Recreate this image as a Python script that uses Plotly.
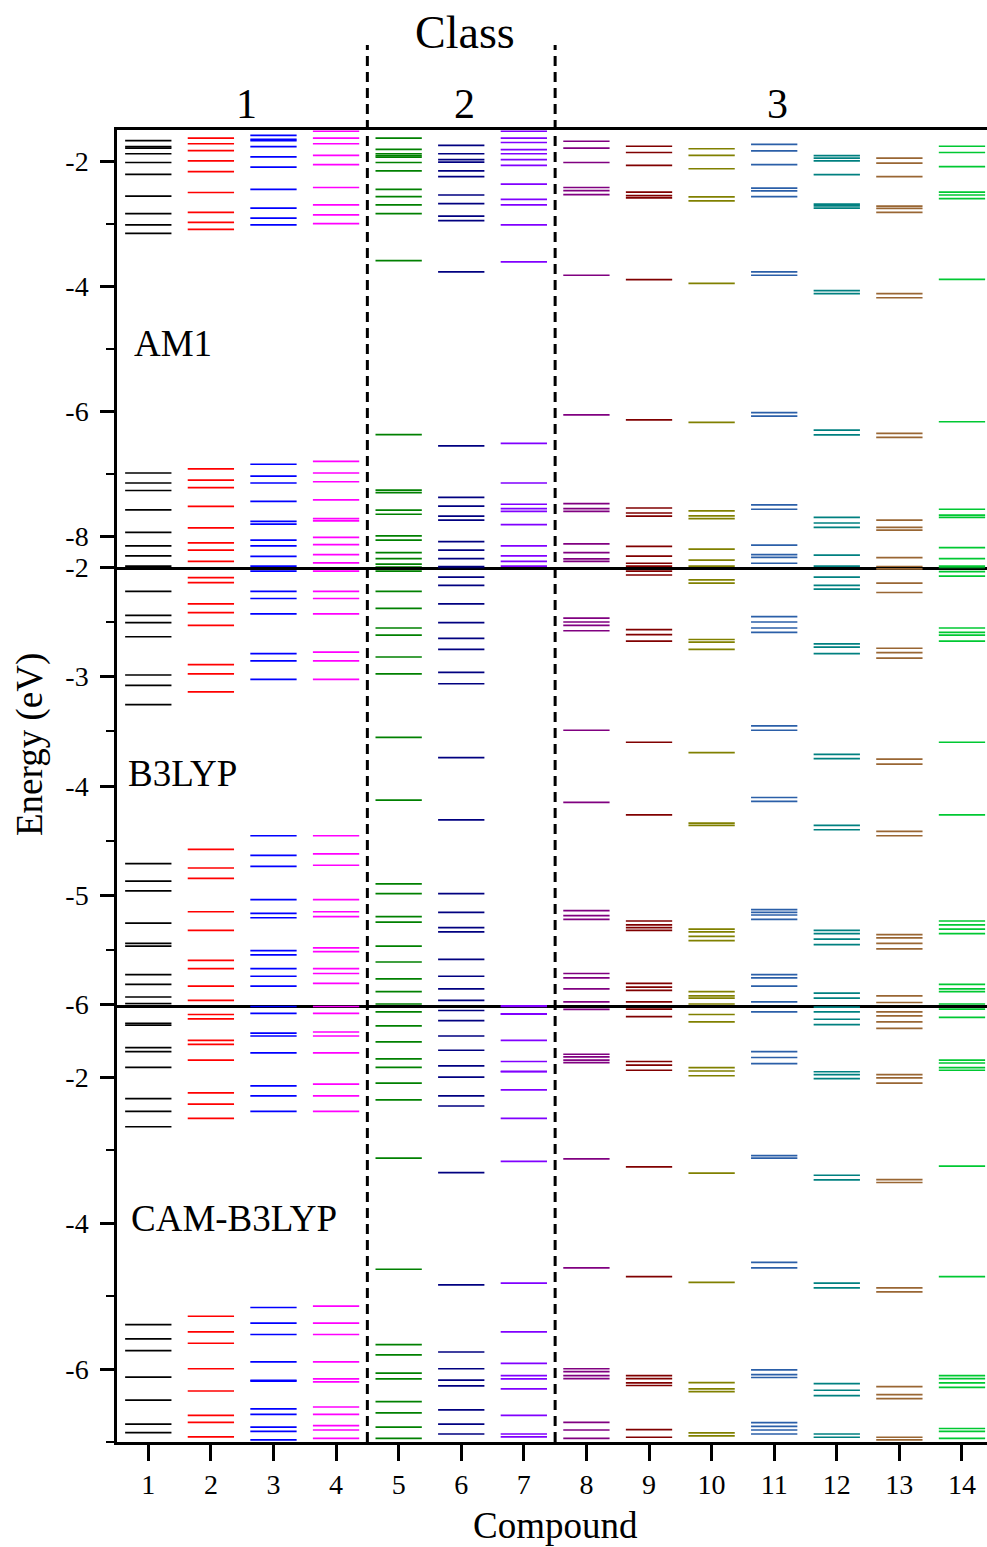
import plotly.graph_objects as go
from plotly.subplots import make_subplots

compounds = list(range(1, 15))
colors = ["#000000", "#ff0000", "#0000ff", "#ff00ff", "#008000", "#000080", "#8000ff",
          "#800080", "#800000", "#808000", "#2b5fa8", "#008080", "#996633", "#00c832"]
panel_names = ["AM1", "B3LYP", "CAM-B3LYP"]
class_labels = ["1", "2", "3"]

am1_levels = [
    [-1.67, -1.765, -1.79, -1.88, -2.02, -2.21, -2.56, -2.84, -3.02, -3.155, -6.99, -7.15, -7.27, -7.58, -7.94, -8.155, -8.315, -8.48],
    [-1.63, -1.72, -1.83, -1.995, -2.165, -2.50, -2.82, -2.98, -3.09, -6.925, -7.105, -7.225, -7.525, -7.87, -8.11, -8.225, -8.405],
    [-1.585, -1.65, -1.67, -1.765, -1.93, -2.095, -2.45, -2.75, -2.91, -3.02, -6.85, -7.04, -7.15, -7.445, -7.765, -7.81, -8.065, -8.155, -8.325, -8.48],
    [-1.52, -1.63, -1.72, -1.905, -2.055, -2.42, -2.70, -2.86, -3.00, -6.805, -6.99, -7.13, -7.42, -7.72, -7.755, -8.02, -8.135, -8.295, -8.43],
    [-1.63, -1.81, -1.88, -1.91, -1.935, -2.02, -2.155, -2.45, -2.565, -2.70, -2.84, -3.59, -6.375, -7.265, -7.305, -7.585, -7.65, -7.995, -8.065, -8.265, -8.36, -8.45, -8.495],
    [-1.745, -1.88, -1.975, -2.015, -2.155, -2.245, -2.54, -2.68, -2.88, -2.95, -3.77, -6.555, -7.38, -7.52, -7.68, -7.745, -8.09, -8.225, -8.36, -8.49],
    [-1.52, -1.63, -1.70, -1.815, -1.88, -1.975, -2.065, -2.365, -2.61, -2.70, -3.02, -3.61, -6.515, -7.15, -7.49, -7.56, -7.605, -7.815, -8.155, -8.315, -8.405, -8.48],
    [-1.68, -1.79, -2.02, -2.42, -2.47, -2.535, -3.825, -6.06, -7.48, -7.56, -7.605, -8.125, -8.265, -8.365, -8.405],
    [-1.76, -1.86, -2.065, -2.495, -2.55, -2.585, -3.895, -6.14, -7.55, -7.63, -7.68, -8.165, -8.32, -8.435, -8.48],
    [-1.80, -1.905, -2.12, -2.57, -2.635, -3.955, -6.18, -7.595, -7.675, -7.72, -8.21, -8.385, -8.48],
    [-1.73, -1.835, -2.055, -2.43, -2.475, -2.565, -3.77, -3.825, -6.025, -6.08, -7.50, -7.57, -8.145, -8.295, -8.34, -8.435],
    [-1.91, -1.95, -1.995, -2.215, -2.685, -2.715, -2.75, -4.07, -4.12, -6.305, -6.38, -7.70, -7.79, -7.86, -8.305, -8.48],
    [-1.95, -2.03, -2.245, -2.72, -2.755, -2.82, -4.12, -4.185, -6.355, -6.42, -7.745, -7.86, -7.905, -8.345, -8.49],
    [-1.76, -1.86, -2.085, -2.495, -2.54, -2.60, -3.89, -6.17, -7.57, -7.665, -7.70, -8.185, -8.36, -8.48],
]

b3lyp_levels = [
    [-2.22, -2.44, -2.505, -2.635, -2.985, -3.08, -3.255, -4.71, -4.87, -4.96, -5.255, -5.44, -5.465, -5.725, -5.815, -5.93, -5.99],
    [-2.095, -2.14, -2.335, -2.415, -2.53, -2.89, -2.975, -3.14, -4.58, -4.75, -4.845, -5.15, -5.32, -5.595, -5.67, -5.83, -5.96],
    [-2.035, -2.22, -2.285, -2.425, -2.79, -2.855, -3.025, -4.455, -4.635, -4.735, -5.04, -5.165, -5.205, -5.505, -5.545, -5.67, -5.74, -5.83],
    [-2.035, -2.22, -2.285, -2.425, -2.775, -2.855, -3.025, -4.455, -4.62, -4.725, -5.04, -5.15, -5.195, -5.48, -5.515, -5.67, -5.715, -5.805],
    [-2.035, -2.22, -2.375, -2.555, -2.62, -2.82, -2.975, -3.555, -4.13, -4.895, -4.985, -5.195, -5.245, -5.465, -5.61, -5.765, -5.88, -5.995],
    [-2.00, -2.09, -2.165, -2.335, -2.505, -2.65, -2.75, -2.96, -3.065, -3.74, -4.31, -4.985, -5.155, -5.295, -5.335, -5.585, -5.74, -5.855, -5.96],
    [],
    [-2.465, -2.50, -2.53, -2.58, -3.49, -4.15, -5.14, -5.185, -5.22, -5.715, -5.755, -5.855, -5.975],
    [-2.035, -2.07, -2.57, -2.615, -2.675, -3.60, -4.265, -5.235, -5.27, -5.295, -5.32, -5.805, -5.84, -5.87, -5.975],
    [-2.115, -2.145, -2.66, -2.685, -2.75, -3.695, -4.34, -4.36, -5.31, -5.335, -5.375, -5.415, -5.88, -5.92, -5.94, -5.995],
    [-2.45, -2.50, -2.555, -2.595, -3.45, -3.49, -4.105, -4.14, -5.13, -5.155, -5.18, -5.22, -5.725, -5.755, -5.83, -5.975],
    [-2.09, -2.165, -2.20, -2.70, -2.73, -2.79, -3.71, -3.75, -4.36, -4.40, -5.32, -5.35, -5.40, -5.45, -5.895, -5.94],
    [-2.015, -2.145, -2.23, -2.74, -2.78, -2.83, -3.755, -3.80, -4.415, -4.455, -5.36, -5.39, -5.44, -5.49, -5.92, -5.98],
    [-2.00, -2.04, -2.08, -2.555, -2.595, -2.62, -2.675, -3.60, -4.265, -5.235, -5.27, -5.31, -5.35, -5.815, -5.855, -5.88, -5.995],
]

cam_levels = [
    [-1.255, -1.28, -1.59, -1.645, -1.86, -2.29, -2.465, -2.675, -5.39, -5.585, -5.745, -6.11, -6.425, -6.755, -6.87],
    [-1.135, -1.195, -1.49, -1.545, -1.76, -2.21, -2.365, -2.56, -5.275, -5.49, -5.645, -5.995, -6.30, -6.635, -6.73, -6.93],
    [-1.025, -1.12, -1.39, -1.43, -1.66, -2.115, -2.25, -2.465, -5.155, -5.37, -5.525, -5.90, -6.155, -6.165, -6.545, -6.62, -6.795, -6.855, -6.97],
    [-1.025, -1.12, -1.375, -1.43, -1.66, -2.09, -2.25, -2.465, -5.135, -5.37, -5.525, -5.90, -6.135, -6.175, -6.52, -6.62, -6.775, -6.835, -6.95],
    [-1.10, -1.29, -1.51, -1.745, -1.86, -2.075, -2.305, -3.105, -4.63, -5.665, -5.805, -6.055, -6.135, -6.445, -6.60, -6.795, -6.95],
    [-1.08, -1.22, -1.43, -1.625, -1.84, -1.995, -2.25, -2.39, -3.305, -4.845, -5.765, -5.995, -6.15, -6.23, -6.56, -6.755, -6.89],
    [-1.015, -1.025, -1.125, -1.13, -1.49, -1.78, -1.915, -1.92, -2.17, -2.56, -3.15, -4.82, -5.49, -5.92, -6.09, -6.135, -6.27, -6.635, -6.89, -6.93],
    [-1.065, -1.68, -1.715, -1.76, -1.795, -3.115, -4.61, -5.995, -6.035, -6.09, -6.13, -6.73, -6.835, -6.95],
    [-1.06, -1.165, -1.78, -1.83, -1.90, -3.225, -4.73, -6.09, -6.13, -6.19, -6.225, -6.83, -6.935],
    [-1.135, -1.235, -1.865, -1.91, -1.975, -3.31, -4.81, -6.185, -6.27, -6.31, -6.875, -6.915],
    [-1.10, -1.645, -1.725, -1.81, -3.07, -3.105, -4.535, -4.61, -6.01, -6.075, -6.115, -6.735, -6.785, -6.835, -6.89],
    [-1.035, -1.10, -1.20, -1.275, -1.92, -1.96, -2.015, -3.34, -3.405, -4.82, -4.885, -6.20, -6.29, -6.365, -6.89, -6.935],
    [-1.10, -1.155, -1.235, -1.325, -1.96, -2.005, -2.075, -3.40, -3.44, -4.885, -4.94, -6.24, -6.35, -6.405, -6.935, -6.97],
    [-1.06, -1.175, -1.76, -1.80, -1.865, -1.90, -3.215, -4.73, -6.09, -6.13, -6.19, -6.25, -6.815, -6.855, -6.95],
]

am1_ticks = [-2, -4, -6, -8]
b3lyp_ticks = [-2, -3, -4, -5, -6]
cam_ticks = [-2, -4, -6]

panels = [am1_levels, b3lyp_levels, cam_levels]
HALF = 0.37
FONT = "Liberation Serif, Times New Roman, serif"

fig = make_subplots(rows=3, cols=1, shared_xaxes=True, vertical_spacing=0)

for row, levels in enumerate(panels, start=1):
    for c, col, lv in zip(compounds, colors, levels):
        xs, ys = [], []
        for e in lv:
            xs += [c - HALF, c + HALF, None]
            ys += [e, e, None]
        fig.add_trace(go.Scatter(x=xs, y=ys, mode="lines", line=dict(color=col, width=1.7),
                                 showlegend=False, hoverinfo="skip"), row=row, col=1)

W, H = 987, 1547
L, R, T, B = 117, 0, 130, 105
pw, ph = W - L - R, H - T - B

def px_x(px):
    return (px - L) / pw

def px_y(py):
    return (H - B - py) / ph

fig.update_layout(
    width=W, height=H, margin=dict(l=L, r=R, t=T, b=B),
    plot_bgcolor="white", paper_bgcolor="white",
    font=dict(family=FONT, size=28, color="black"),
    showlegend=False,
)

xcommon = dict(range=[0.5, 14.4], showgrid=False, zeroline=False, showline=True,
               linecolor="black", linewidth=2.5)
fig.update_xaxes(**xcommon, mirror=True, ticks="", showticklabels=False, row=1, col=1)
fig.update_xaxes(**xcommon, mirror=False, ticks="", showticklabels=False, row=2, col=1)
fig.update_xaxes(**xcommon, mirror=False, ticks="outside", ticklen=16, tickwidth=2.5,
                 tickcolor="black", tickmode="array", tickvals=compounds,
                 ticktext=[str(c) for c in compounds],
                 tickfont=dict(family=FONT, size=28), showticklabels=True, row=3, col=1)

ycommon = dict(showgrid=False, zeroline=False, showline=True, mirror=False,
               linecolor="black", linewidth=2.5, ticks="outside", ticklen=14,
               tickwidth=2.5, tickcolor="black", tickfont=dict(family=FONT, size=28),
               ticklabelstandoff=6, tickmode="array")
fig.update_yaxes(**ycommon, range=[-8.5, -1.5], tickvals=am1_ticks,
                 ticktext=[f"-{abs(v)}" for v in am1_ticks],
                 minor=dict(ticks="outside", ticklen=8, tickwidth=2, tickcolor="black",
                            tickmode="linear", tick0=0, dtick=1),
                 row=1, col=1)
fig.update_yaxes(**ycommon, range=[-6, -2], tickvals=b3lyp_ticks,
                 ticktext=[f"-{abs(v)}" for v in b3lyp_ticks],
                 minor=dict(ticks="outside", ticklen=8, tickwidth=2, tickcolor="black",
                            tickmode="linear", tick0=0, dtick=0.5),
                 row=2, col=1)
fig.update_yaxes(**ycommon, range=[-7, -1], tickvals=cam_ticks,
                 ticktext=[f"-{abs(v)}" for v in cam_ticks],
                 minor=dict(ticks="outside", ticklen=8, tickwidth=2, tickcolor="black",
                            tickmode="linear", tick0=0, dtick=1),
                 row=3, col=1)

for xv in (4.5, 7.5):
    fig.add_shape(type="line", xref="x", yref="paper", x0=xv, x1=xv, y0=0, y1=px_y(45),
                  line=dict(color="black", width=3, dash="10px,6px"))

ann = []
ann.append(dict(text="Class", x=px_x(465), y=px_y(33), font=dict(size=46)))
for lab, cx in zip(class_labels, (246, 464, 777)):
    ann.append(dict(text=lab, x=px_x(cx), y=px_y(104), font=dict(size=42)))
for name, lx, ly in zip(panel_names, (132, 126, 129), (343, 773, 1218)):
    ann.append(dict(text=name, x=px_x(lx), y=px_y(ly), xanchor="left", font=dict(size=37)))
ann.append(dict(text="Compound", x=px_x(555), y=px_y(1525), font=dict(size=37)))
ann.append(dict(text="Energy (eV)", x=px_x(30), y=px_y(745), textangle=-90, font=dict(size=37)))
for a in ann:
    a.setdefault("xanchor", "center")
    fig.add_annotation(xref="paper", yref="paper", showarrow=False, yanchor="middle",
                       **{k: v for k, v in a.items()})

fig.write_html("out.html")
